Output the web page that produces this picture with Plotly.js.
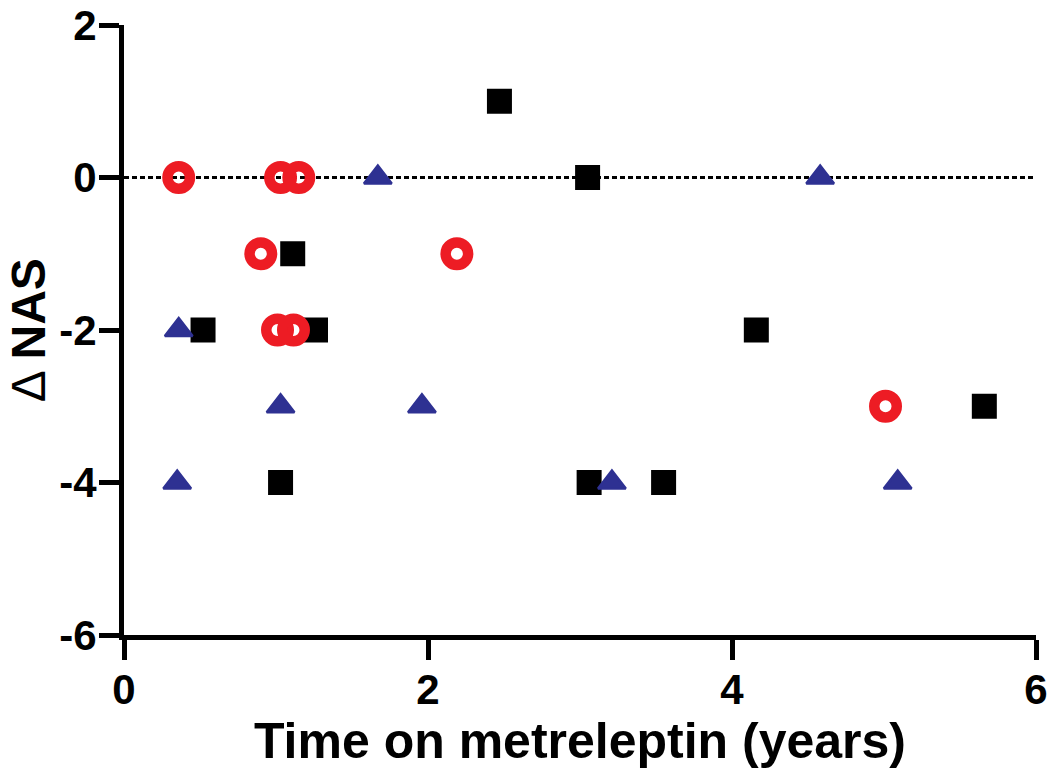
<!DOCTYPE html>
<html>
<head>
<meta charset="utf-8">
<script src="https://cdn.plot.ly/plotly-3.0.1.min.js"></script>
<style>html,body{margin:0;padding:0;background:#fff;}#chart{width:1050px;height:779px;}</style>
</head>
<body>
<div id="chart"></div>
<script>
// Red open circles
const redX = [0.36, 1.03, 1.15, 0.90, 2.19, 1.01, 1.115, 5.01];
const redY = [0, 0, 0, -1, -1, -2, -2, -3];
// Black squares
const blackX = [2.47, 3.05, 1.11, 0.52, 1.26, 4.16, 5.66, 1.03, 3.06, 3.55];
const blackY = [1, 0, -1, -2, -2, -2, -3, -4, -4, -4];
// Blue triangles
const blueX = [1.67, 4.58, 0.36, 1.03, 1.96, 0.35, 3.21, 5.09];
const blueY = [0, 0, -2, -3, -3, -4, -4, -4];

const xTicks = [0, 2, 4, 6];
const yTicks = [-6, -4, -2, 0, 2];
const yTitle = 'Δ <b>NAS</b>';
const xTitle = '<b>Time on metreleptin (years)</b>';

const FONT = '"Liberation Sans", Arial, Helvetica, sans-serif';

const traces = [
  {x: blackX, y: blackY, type: 'scatter', mode: 'markers', name: 'black',
   marker: {symbol: 'square', size: 25, color: '#000000', line: {width: 0}}},
  {x: blueX, y: blueY, type: 'scatter', mode: 'markers', name: 'blue',
   marker: {symbol: 'triangle-up', size: 24, color: '#2E3192', line: {width: 2.5, color: '#2E3192'}}},
  {x: redX, y: redY, type: 'scatter', mode: 'markers', name: 'red',
   marker: {symbol: 'circle-open', size: 22.5, color: '#ED1C24', line: {width: 10.5, color: '#ED1C24'}}}
];

const layout = {
  width: 1050, height: 779,
  margin: {l: 124, r: 14, t: 25, b: 144},
  paper_bgcolor: '#ffffff', plot_bgcolor: '#ffffff',
  showlegend: false,
  font: {family: FONT, color: '#000'},
  xaxis: {
    range: [0, 6], tickvals: xTicks, ticktext: xTicks.map(v => '<b>' + v + '</b>'),
    showgrid: false, zeroline: false,
    showline: true, linecolor: '#000', linewidth: 5,
    ticks: 'outside', ticklen: 20, tickwidth: 5, tickcolor: '#000',
    ticklabeloverflow: 'allow', ticklabelstandoff: -6,
    tickfont: {family: FONT, size: 42, color: '#000'},
    title: {text: xTitle, standoff: 2,
            font: {family: FONT, size: 50, color: '#000'}},
    automargin: false, fixedrange: true
  },
  yaxis: {
    range: [-6, 2], tickvals: yTicks, ticktext: yTicks.map(v => '<b>' + v + '</b>'),
    showgrid: false, zeroline: false,
    showline: true, linecolor: '#000', linewidth: 5,
    ticks: 'outside', ticklen: 20, tickwidth: 5, tickcolor: '#000',
    ticklabeloverflow: 'allow', ticklabelstandoff: -6,
    tickfont: {family: FONT, size: 42, color: '#000'},
    automargin: false, fixedrange: true
  },
  annotations: [{
    text: yTitle, xref: 'paper', yref: 'paper', x: -0.105, y: 0.5,
    xanchor: 'center', yanchor: 'middle', textangle: -90, showarrow: false,
    font: {family: FONT, size: 48, color: '#000'}
  }],
  shapes: [{
    type: 'line', xref: 'paper', yref: 'y', x0: 0, x1: 1, y0: 0, y1: 0,
    line: {color: '#000', width: 3, dash: '5px,3px'}, layer: 'below'
  }]
};

Plotly.newPlot('chart', traces, layout, {displayModeBar: false, staticPlot: true});
</script>
</body>
</html>
